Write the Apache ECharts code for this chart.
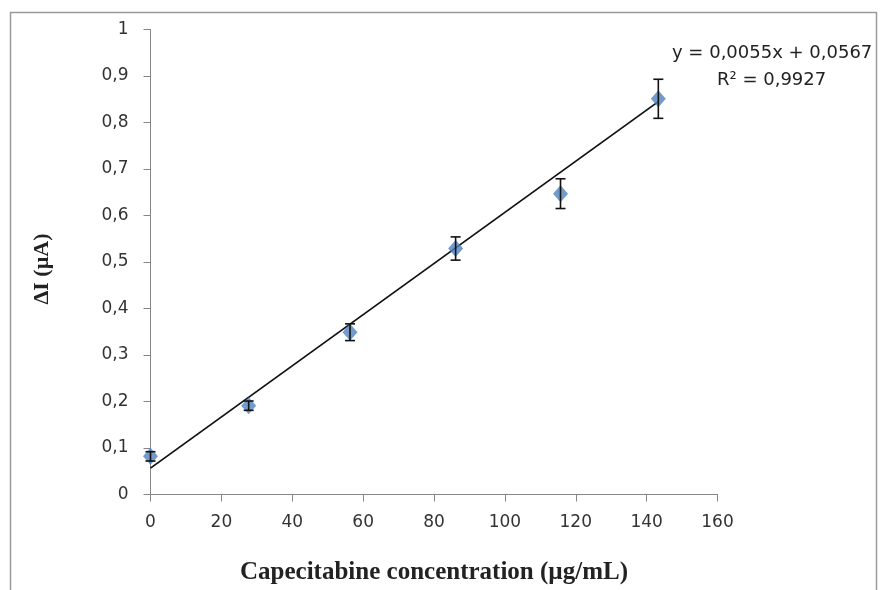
<!DOCTYPE html>
<html>
<head>
<meta charset="utf-8">
<style>
  html, body { margin: 0; padding: 0; background: #fff; }
  #chart { width: 880px; height: 590px; }
</style>
<script src="https://cdn.jsdelivr.net/npm/echarts@6/dist/echarts.min.js"></script>
</head>
<body>
<div id="chart"></div>
<script>
// Capecitabine calibration: concentration (µg/mL) vs current change (µA)
const concentrations = [0, 27.7, 56.3, 86.1, 115.7, 143.3];
const deltaI = [0.082, 0.191, 0.349, 0.529, 0.647, 0.851];
const errors = [0.010, 0.010, 0.018, 0.025, 0.032, 0.042];

// Linear fit as printed on the plot
const slope = 0.0055;
const intercept = 0.0567;
const rSquared = '0,9927';

const xTicks = [0, 20, 40, 60, 80, 100, 120, 140, 160];
const yTicks = [0, 0.1, 0.2, 0.3, 0.4, 0.5, 0.6, 0.7, 0.8, 0.9, 1];

const fmt = v => String(v).replace('.', ',');

const points = concentrations.map((x, i) => [x, deltaI[i]]);
const bars = concentrations.map((x, i) => [x, deltaI[i] - errors[i], deltaI[i] + errors[i]]);
const xEnd = concentrations[concentrations.length - 1];
const fitLine = [[0, intercept], [xEnd, slope * xEnd + intercept]];

const chart = echarts.init(document.getElementById('chart'), null, { renderer: 'canvas' });

const axisGrey = '#868686';
const labelColor = '#333';

chart.setOption({
  animation: false,
  backgroundColor: '#fff',
  grid: { left: 150.5, right: 162.5, top: 29.5, bottom: 95.5, containLabel: false, outerBoundsMode: 'none' },
  xAxis: {
    type: 'value',
    min: xTicks[0], max: xTicks[xTicks.length - 1], interval: 20,
    splitLine: { show: false },
    axisLine: { onZero: false, lineStyle: { color: axisGrey, width: 1 } },
    axisTick: { show: true, length: 7, lineStyle: { color: axisGrey } },
    axisLabel: { color: labelColor, fontFamily: 'DejaVu Sans', fontSize: 17, margin: 20, formatter: v => fmt(v) },
    name: 'Capecitabine concentration (µg/mL)',
    nameLocation: 'middle', nameGap: 66,
    nameTextStyle: { fontFamily: 'Liberation Serif', fontWeight: 'bold', fontSize: 25, color: '#222' }
  },
  yAxis: {
    type: 'value',
    min: yTicks[0], max: yTicks[yTicks.length - 1], interval: 0.1,
    splitLine: { show: false },
    axisLine: { show: true, onZero: false, lineStyle: { color: axisGrey, width: 1 } },
    axisTick: { show: true, length: 7, lineStyle: { color: axisGrey } },
    axisLabel: { color: labelColor, fontFamily: 'DejaVu Sans', fontSize: 17, margin: 22,
                 formatter: v => fmt(Math.round(v * 10) / 10) },
    name: 'ΔI (µA)',
    nameLocation: 'middle', nameGap: 97, nameRotate: 90,
    nameTextStyle: { fontFamily: 'Liberation Serif', fontWeight: 'bold', fontSize: 22, color: '#222',
                     padding: [0, 14, 0, 0] }
  },
  series: [
    {
      name: 'fit',
      type: 'line',
      data: fitLine,
      symbol: 'none',
      lineStyle: { color: '#111', width: 1.8 },
      z: 2
    },
    {
      name: 'error',
      type: 'custom',
      data: bars,
      z: 4,
      renderItem: (params, api) => {
        const lo = api.coord([api.value(0), api.value(1)]);
        const hi = api.coord([api.value(0), api.value(2)]);
        const w = 5;
        const style = { stroke: '#111', lineWidth: 1.6 };
        return {
          type: 'group',
          children: [
            { type: 'line', shape: { x1: lo[0], y1: lo[1], x2: hi[0], y2: hi[1] }, style },
            { type: 'line', shape: { x1: lo[0] - w, y1: lo[1], x2: lo[0] + w, y2: lo[1] }, style },
            { type: 'line', shape: { x1: hi[0] - w, y1: hi[1], x2: hi[0] + w, y2: hi[1] }, style }
          ]
        };
      }
    },
    {
      name: 'ΔI',
      type: 'scatter',
      data: points,
      symbol: 'diamond',
      symbolSize: [15, 17],
      itemStyle: { color: '#4F81BD' },
      z: 3
    }
  ],
  graphic: [
    {
      type: 'rect', silent: true, z: -1,
      shape: { x: 10.5, y: 12.5, width: 866, height: 600 },
      style: { fill: 'none', stroke: '#9a9a9a', lineWidth: 1.5 }
    },
    {
      type: 'text', left: 672, top: 44,
      style: { text: 'y = ' + fmt(slope) + 'x + ' + fmt(intercept), font: '18px "DejaVu Sans"', fill: '#222' }
    },
    {
      type: 'text', left: 717, top: 71,
      style: { text: 'R² = ' + rSquared, font: '18px "DejaVu Sans"', fill: '#222' }
    }
  ]
});
</script>
</body>
</html>
